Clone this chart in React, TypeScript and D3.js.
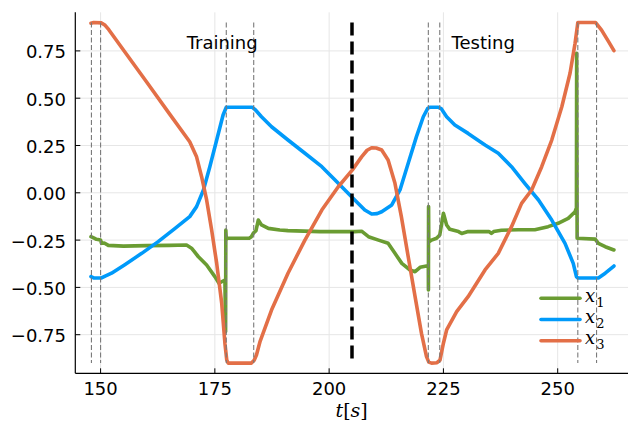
import React from "react";
import * as d3 from "d3";

// ---------- data ----------
const xTicks = [150, 175, 200, 225, 250];
const xTickLabels = ["150", "175", "200", "225", "250"];
const yTicks = [-0.75, -0.5, -0.25, 0, 0.25, 0.5, 0.75];
const yTickLabels = ["−0.75", "−0.50", "−0.25", "0.00", "0.25", "0.50", "0.75"];

const phaseTimes = [148, 150, 177.5, 183.5, 221.7, 224.2, 254.4, 258.5];
const splitTimes = [205];
const seriesNames = ["1", "2", "3"];

const x1Data: [number, number][] = [
  [147.9, -0.232], [148.6, -0.24], [149.1, -0.246], [150.0, -0.25], [150.2, -0.267],
  [150.8, -0.265], [151.7, -0.278], [155, -0.282], [160, -0.279], [165, -0.278],
  [168.8, -0.276], [169.9, -0.293], [171.4, -0.338], [173.2, -0.382], [175.0, -0.443],
  [175.9, -0.478], [176.5, -0.47], [177.2, -0.461], [177.35, -0.734], [177.4, -0.197],
  [177.5, -0.246], [177.8, -0.24], [182.5, -0.24], [183.0, -0.232], [183.4, -0.214],
  [184.0, -0.2], [184.5, -0.144], [185.2, -0.17], [186.7, -0.188], [189.2, -0.197],
  [191.0, -0.2], [198, -0.205], [205.6, -0.205], [207.1, -0.203], [208.6, -0.232],
  [210.8, -0.25], [212.9, -0.267], [214.4, -0.32], [215.9, -0.373], [217.7, -0.408],
  [218.8, -0.417], [219.9, -0.394], [221.3, -0.387], [221.7, -0.387], [221.72, -0.514],
  [221.75, -0.073], [221.8, -0.26], [222.4, -0.25], [223.5, -0.24], [224.2, -0.223],
  [225.0, -0.108], [225.7, -0.17], [226.4, -0.193], [228.3, -0.205], [229.0, -0.215],
  [230.4, -0.205], [235, -0.205], [235.5, -0.215], [236, -0.205], [237.7, -0.198],
  [241.4, -0.195], [245.0, -0.195], [247.9, -0.179], [250.1, -0.161], [252.3, -0.135],
  [253.8, -0.1], [254.1, -0.08], [254.15, 0.737], [254.25, -0.24], [258.2, -0.245],
  [258.9, -0.267], [260.4, -0.285], [262.3, -0.302],
];

const x2Data: [number, number][] = [
  [147.9, -0.443], [148.5, -0.45], [150.2, -0.45], [151.0, -0.44], [152.4, -0.425],
  [155.3, -0.38], [159.0, -0.32], [162.6, -0.258], [166.3, -0.188], [169.5, -0.126],
  [171.0, -0.073], [172.5, 0.015], [173.9, 0.138], [175.4, 0.279], [176.8, 0.411],
  [177.5, 0.452], [183.2, 0.452], [183.8, 0.44], [185.2, 0.402], [187.4, 0.349],
  [191.0, 0.279], [194.7, 0.209], [198.4, 0.138], [202.0, 0.05], [205.6, -0.038],
  [207.8, -0.091], [209.3, -0.112], [210.5, -0.11], [211.5, -0.1], [213.7, -0.064],
  [215.5, 0.015], [217.3, 0.156], [219.1, 0.297], [220.6, 0.402], [221.6, 0.447],
  [222.0, 0.452], [223.9, 0.452], [224.5, 0.445], [225.7, 0.402], [227.5, 0.358],
  [230.4, 0.314], [234.1, 0.253], [237.0, 0.209], [239.9, 0.138], [242.8, 0.05],
  [245.8, -0.038], [248.7, -0.144], [251.6, -0.267], [253.4, -0.373], [254.1, -0.443],
  [254.4, -0.45], [258.9, -0.45], [260.4, -0.425], [262.3, -0.387],
];

const x3Data: [number, number][] = [
  [147.9, 0.896], [148.5, 0.9], [150.2, 0.898], [151.0, 0.885], [151.8, 0.862],
  [155, 0.755], [160, 0.588], [165, 0.42], [169.5, 0.27], [171.0, 0.19],
  [172.1, 0.085], [173.2, -0.038], [174.3, -0.197], [175.4, -0.373], [176.5, -0.584],
  [177.2, -0.795], [177.6, -0.884], [177.9, -0.9], [183.0, -0.9], [183.6, -0.885],
  [184.1, -0.857], [184.9, -0.785], [187.4, -0.62], [191.0, -0.425], [194.7, -0.25],
  [198.4, -0.091], [202.0, 0.032], [205.05, 0.12], [207.1, 0.19], [208.3, 0.225],
  [209.3, 0.238], [210.3, 0.237], [211.5, 0.226], [212.9, 0.173], [214.4, 0.05],
  [215.8, -0.126], [217.3, -0.338], [218.8, -0.549], [220.2, -0.743], [221.3, -0.866],
  [221.8, -0.895], [222.4, -0.9], [223.6, -0.898], [224.25, -0.884], [225.0, -0.795],
  [225.7, -0.725], [227.9, -0.628], [230.4, -0.549], [234.1, -0.408], [237.0, -0.32],
  [239.9, -0.179], [242.1, -0.056], [244.3, 0.015], [246.5, 0.138], [248.7, 0.279],
  [250.9, 0.455], [252.7, 0.632], [253.8, 0.79], [254.3, 0.88], [254.4, 0.9],
  [258.3, 0.9], [259.6, 0.86], [261.1, 0.8], [262.3, 0.751],
];

const seriesList = [x1Data, x2Data, x3Data];
const colors = ["#6A9C32", "#009AFA", "#E36F47"];

// ---------- layout ----------
const W = 628;
const H = 423;
const left = 75.3;
const right = 629.6;
const top = 12.3;
const bottom = 373.3;

export default function App() {
  const x = d3.scaleLinear().domain([144.47, 265.73]).range([left, right]);
  const y = d3.scaleLinear().domain([-0.954, 0.954]).range([bottom, top]);
  const line = d3
    .line<[number, number]>()
    .x((d) => x(d[0]))
    .y((d) => y(d[1]))
    .curve(d3.curveLinear);

  const sans = "'DejaVu Sans', sans-serif";
  const serif = "'DejaVu Serif', 'Liberation Serif', serif";

  return (
    <svg
      width={W}
      height={H}
      style={{ position: "fixed", left: 0, top: 0, background: "#fff" }}
    >
      <rect x={0} y={0} width={W} height={H} fill="#fff" />
      {/* grid */}
      {xTicks.map((t) => (
        <line key={"gx" + t} x1={x(t)} x2={x(t)} y1={top} y2={bottom} stroke="#e6e6e6" strokeWidth={1} />
      ))}
      {yTicks.map((v) => (
        <line key={"gy" + v} x1={left} x2={W} y1={y(v)} y2={y(v)} stroke="#e6e6e6" strokeWidth={1} />
      ))}

      {/* series */}
      {seriesList.map((s, i) => (
        <path key={"s" + i} d={line(s) || ""} fill="none" stroke={colors[i]} strokeWidth={3.6} strokeLinejoin="round" strokeLinecap="round" />
      ))}

      {/* phase lines */}
      {phaseTimes.map((t) => (
        <line key={"p" + t} x1={x(t)} x2={x(t)} y1={y(0.9)} y2={y(-0.9)} stroke="#7a7a7a" strokeWidth={1.1} strokeDasharray="5,2.5" />
      ))}
      {splitTimes.map((t) => (
        <line key={"sp" + t} x1={x(t)} x2={x(t)} y1={y(0.9)} y2={y(-0.9)} stroke="#000" strokeWidth={3.5} strokeDasharray="13,6" />
      ))}

      {/* axes */}
      <line x1={left} x2={left} y1={top} y2={bottom} stroke="#000" strokeWidth={1.2} />
      <line x1={left} x2={W} y1={bottom} y2={bottom} stroke="#000" strokeWidth={1.2} />
      {xTicks.map((t, i) => (
        <g key={"xt" + t}>
          <line x1={x(t)} x2={x(t)} y1={bottom} y2={bottom - 5} stroke="#000" strokeWidth={1} />
          <text x={x(t)} y={395} textAnchor="middle" fontFamily={sans} fontSize={18} fill="#000">
            {xTickLabels[i]}
          </text>
        </g>
      ))}
      {yTicks.map((v, i) => (
        <g key={"yt" + v}>
          <line x1={left} x2={left + 5} y1={y(v)} y2={y(v)} stroke="#000" strokeWidth={1} />
          <text x={66} y={y(v) + 7.5} textAnchor="end" fontFamily={sans} fontSize={18} fill="#000">
            {yTickLabels[i]}
          </text>
        </g>
      ))}

      {/* x label */}
      <text x={(left + W) / 2} y={417} textAnchor="middle" fontFamily={serif} fontSize={19} fill="#000">
        <tspan fontStyle="italic">t</tspan>
        <tspan>[</tspan>
        <tspan fontStyle="italic">s</tspan>
        <tspan>]</tspan>
      </text>

      {/* annotations */}
      <text x={x(176.6)} y={49} textAnchor="middle" fontFamily={sans} fontSize={18} fill="#000">Training</text>
      <text x={x(233.7)} y={49} textAnchor="middle" fontFamily={sans} fontSize={18} fill="#000">Testing</text>

      {/* legend */}
      {seriesNames.map((n, i) => {
        const ly = 298.3 + i * 21.2;
        return (
          <g key={"lg" + n}>
            <line x1={541} x2={580} y1={ly} y2={ly} stroke={colors[i]} strokeWidth={3.6} strokeLinecap="round" />
            <text x={585} y={ly + 3.5} fontFamily={serif} fontSize={18} fontStyle="italic" fill="#000">
              x
              <tspan dx={1} dy={5} fontSize={13} fontStyle="normal">{n}</tspan>
            </text>
          </g>
        );
      })}
    </svg>
  );
}
